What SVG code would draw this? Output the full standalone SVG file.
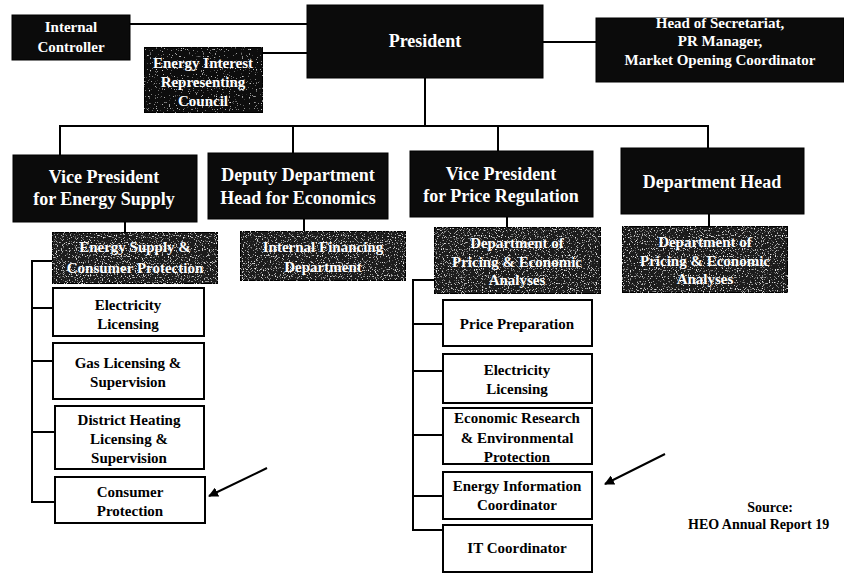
<svg xmlns="http://www.w3.org/2000/svg" width="844" height="573" viewBox="0 0 844 573">
  <style>
    text { font-family: "Liberation Serif", "Times New Roman", serif; font-weight: bold; text-anchor: middle; }
    .dark rect { fill: #0b0b0b; stroke: #000; stroke-width: 1; }
    .dark text { fill: #fff; }
    .grey rect.base { fill: #1e1e1e; stroke: #000; stroke-width: 2; }
    .grey text { fill: #fff; font-size: 15px; }
    .plain rect { fill: #fff; stroke: #000; stroke-width: 2; }
    .plain text { fill: #000; font-size: 15px; }
    .l2 text { font-size: 18px; }
    #connectors line, #connectors polyline { stroke: #000; stroke-width: 2; fill: none; }
    #pointers line { stroke: #000; stroke-width: 2; }
    .note { font-size: 14px; fill: #000; }
  </style>
  <defs>
    <!-- speckled halftone fill for the department boxes -->
    <filter id="grain" x="0" y="0" width="100%" height="100%">
      <feTurbulence type="fractalNoise" baseFrequency="0.85" numOctaves="1" seed="7" result="n"/>
      <feColorMatrix in="n" type="matrix" values="0 0 0 0 0.85  0 0 0 0 0.85  0 0 0 0 0.85  6 0 0 0 -3.5" result="specks"/>
      <feComposite in="specks" in2="SourceGraphic" operator="in" result="s"/>
      <feMerge><feMergeNode in="SourceGraphic"/><feMergeNode in="s"/></feMerge>
    </filter>
    <filter id="grain-light" x="0" y="0" width="100%" height="100%">
      <feTurbulence type="fractalNoise" baseFrequency="0.85" numOctaves="1" seed="3" result="n"/>
      <feColorMatrix in="n" type="matrix" values="0 0 0 0 0.8  0 0 0 0 0.8  0 0 0 0 0.8  6 0 0 0 -3.9" result="specks"/>
      <feComposite in="specks" in2="SourceGraphic" operator="in" result="s"/>
      <feMerge><feMergeNode in="SourceGraphic"/><feMergeNode in="s"/></feMerge>
    </filter>
    <marker id="head" viewBox="0 0 10 10" refX="9" refY="5" markerWidth="5" markerHeight="5" orient="auto" markerUnits="strokeWidth">
      <path d="M0,0 L10,5 L0,10 z" fill="#000"/>
    </marker>
  </defs>

  <rect width="844" height="573" fill="#fff"/>

  <!-- connectors -->
  <g id="connectors">
    <line x1="130" y1="24" x2="307" y2="24"/>
    <line x1="263" y1="53" x2="307" y2="53"/>
    <line x1="543" y1="42" x2="596" y2="42"/>
    <line x1="425" y1="78" x2="425" y2="126"/>
    <line x1="59" y1="126" x2="709" y2="126"/>
    <line x1="60" y1="125" x2="60" y2="155"/>
    <line x1="293" y1="125" x2="293" y2="153"/>
    <line x1="498" y1="125" x2="498" y2="151"/>
    <line x1="708" y1="125" x2="708" y2="148"/>
    <line x1="125" y1="222" x2="125" y2="232"/>
    <line x1="304" y1="219" x2="304" y2="231"/>
    <line x1="507" y1="217" x2="507" y2="227"/>
    <line x1="709" y1="214" x2="709" y2="226"/>
    <!-- energy supply branch -->
    <polyline points="52,261 32,261 32,502 55,502"/>
    <line x1="32" y1="308" x2="53" y2="308"/>
    <line x1="32" y1="361" x2="53" y2="361"/>
    <line x1="32" y1="432" x2="55" y2="432"/>
    <!-- price regulation branch -->
    <polyline points="434,280 413,280 413,530 443,530"/>
    <line x1="413" y1="324" x2="443" y2="324"/>
    <line x1="413" y1="371" x2="443" y2="371"/>
    <line x1="413" y1="435" x2="443" y2="435"/>
    <line x1="413" y1="496" x2="443" y2="496"/>
  </g>

  <!-- top level -->
  <g id="internal-controller" class="dark">
    <rect x="12" y="15" width="118" height="45"/>
    <text x="71" y="32" font-size="15">Internal</text>
    <text x="71" y="52" font-size="15">Controller</text>
  </g>
  <g id="energy-interest-council" class="dark">
    <rect x="144" y="47" width="119" height="66" filter="url(#grain-light)"/>
    <text x="203" y="68" font-size="15">Energy Interest</text>
    <text x="203" y="87" font-size="15">Representing</text>
    <text x="203" y="106" font-size="15">Council</text>
  </g>
  <g id="president" class="dark">
    <rect x="307" y="5" width="236" height="73"/>
    <text x="425" y="47" font-size="18">President</text>
  </g>
  <g id="secretariat" class="dark">
    <rect x="596" y="18" width="248" height="64"/>
    <text x="720" y="28" font-size="15">Head of Secretariat,</text>
    <text x="720" y="46" font-size="15">PR Manager,</text>
    <text x="720" y="65" font-size="15">Market Opening Coordinator</text>
  </g>

  <!-- second level -->
  <g id="vp-energy-supply" class="dark l2">
    <rect x="13" y="155" width="184" height="67"/>
    <text x="104" y="183">Vice President</text>
    <text x="104" y="205">for Energy Supply</text>
  </g>
  <g id="deputy-economics" class="dark l2">
    <rect x="208" y="153" width="180" height="66"/>
    <text x="298" y="181">Deputy Department</text>
    <text x="298" y="204">Head for Economics</text>
  </g>
  <g id="vp-price-regulation" class="dark l2">
    <rect x="410" y="151" width="183" height="66"/>
    <text x="501" y="180">Vice President</text>
    <text x="501" y="202">for Price Regulation</text>
  </g>
  <g id="department-head" class="dark l2">
    <rect x="621" y="148" width="183" height="66"/>
    <text x="712" y="188">Department Head</text>
  </g>

  <!-- third level -->
  <g id="energy-supply-consumer" class="grey">
    <rect class="base" x="52" y="232" width="166" height="52" filter="url(#grain)"/>
    <text x="135" y="252">Energy Supply &amp;</text>
    <text x="135" y="273">Consumer Protection</text>
  </g>
  <g id="internal-financing" class="grey">
    <rect class="base" x="240" y="231" width="166" height="50" filter="url(#grain)"/>
    <text x="323" y="252">Internal Financing</text>
    <text x="323" y="272">Department</text>
  </g>
  <g id="pricing-analyses-vp" class="grey">
    <rect class="base" x="434" y="227" width="167" height="67" filter="url(#grain)"/>
    <text x="517" y="248">Department of</text>
    <text x="517" y="267">Pricing &amp; Economic</text>
    <text x="517" y="285">Analyses</text>
  </g>
  <g id="pricing-analyses-head" class="grey">
    <rect class="base" x="622" y="226" width="166" height="67" filter="url(#grain)"/>
    <text x="705" y="247">Department of</text>
    <text x="705" y="266">Pricing &amp; Economic</text>
    <text x="705" y="284">Analyses</text>
  </g>

  <!-- energy supply units -->
  <g id="es-electricity-licensing" class="plain">
    <rect x="53" y="288" width="151" height="48"/>
    <text x="128" y="310">Electricity</text>
    <text x="128" y="329">Licensing</text>
  </g>
  <g id="es-gas-licensing" class="plain">
    <rect x="53" y="343" width="151" height="56"/>
    <text x="128" y="368">Gas Licensing &amp;</text>
    <text x="128" y="387">Supervision</text>
  </g>
  <g id="es-district-heating" class="plain">
    <rect x="55" y="406" width="149" height="63"/>
    <text x="129" y="425">District Heating</text>
    <text x="129" y="444">Licensing &amp;</text>
    <text x="129" y="463">Supervision</text>
  </g>
  <g id="es-consumer-protection" class="plain">
    <rect x="55" y="477" width="150" height="46"/>
    <text x="130" y="497">Consumer</text>
    <text x="130" y="516">Protection</text>
  </g>

  <!-- price regulation units -->
  <g id="pr-price-preparation" class="plain">
    <rect x="443" y="300" width="149" height="46"/>
    <text x="517" y="329">Price Preparation</text>
  </g>
  <g id="pr-electricity-licensing" class="plain">
    <rect x="443" y="354" width="149" height="49"/>
    <text x="517" y="375">Electricity</text>
    <text x="517" y="394">Licensing</text>
  </g>
  <g id="pr-economic-research" class="plain">
    <rect x="443" y="408" width="149" height="56"/>
    <text x="517" y="423">Economic Research</text>
    <text x="517" y="443">&amp; Environmental</text>
    <text x="517" y="462">Protection</text>
  </g>
  <g id="pr-energy-information" class="plain">
    <rect x="443" y="472" width="149" height="47"/>
    <text x="517" y="491">Energy Information</text>
    <text x="517" y="510">Coordinator</text>
  </g>
  <g id="pr-it-coordinator" class="plain">
    <rect x="443" y="525" width="149" height="47"/>
    <text x="517" y="553">IT Coordinator</text>
  </g>

  <!-- pointer arrows -->
  <g id="pointers">
    <line x1="267" y1="468" x2="209" y2="496" marker-end="url(#head)"/>
    <line x1="665" y1="454" x2="605" y2="484" marker-end="url(#head)"/>
  </g>

  <text class="note" x="770" y="512">Source:</text>
  <text class="note" x="688" y="529" style="text-anchor:start">HEO Annual Report 19</text>
</svg>
